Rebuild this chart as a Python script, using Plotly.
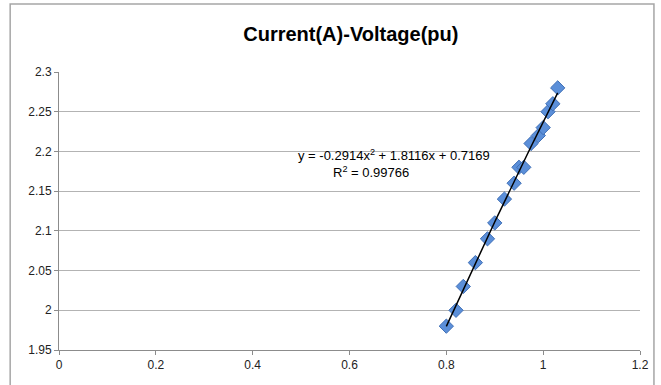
import numpy as np
import plotly.graph_objects as go

# Data
current = [0.80, 0.82, 0.835, 0.86, 0.885, 0.90, 0.92, 0.94, 0.95, 0.96, 0.975, 0.99, 1.00, 1.01, 1.02, 1.03]
voltage = [1.98, 2.00, 2.03, 2.06, 2.09, 2.11, 2.14, 2.16, 2.18, 2.18, 2.21, 2.22, 2.23, 2.25, 2.26, 2.28]

# Trendline coefficients shown on the chart
coef = [-0.2914, 1.8116, 0.7169]
r2_text = "0.99766"

x_ticks = [0, 0.2, 0.4, 0.6, 0.8, 1, 1.2]
x_tick_labels = ["0", "0.2", "0.4", "0.6", "0.8", "1", "1.2"]
y_ticks = [1.95, 2.0, 2.05, 2.1, 2.15, 2.2, 2.25, 2.3]
y_tick_labels = ["1.95", "2", "2.05", "2.1", "2.15", "2.2", "2.25", "2.3"]

W, H = 661, 385
ml, mr, mt, mb = 59, 19, 72, 35
pw, ph = W - ml - mr, H - mt - mb

fx = np.linspace(min(current), max(current), 100)
fy = np.polyval(coef, fx)

fig = go.Figure()
fig.add_trace(go.Scatter(
    x=current, y=voltage, mode="markers",
    marker=dict(symbol="diamond", size=11, color="#5b8fd9",
                line=dict(color="#3f6fb6", width=1)),
    showlegend=False))
fig.add_trace(go.Scatter(
    x=fx, y=fy, mode="lines",
    line=dict(color="black", width=1.5), showlegend=False))

font = "Liberation Sans"
fig.update_layout(
    width=W, height=H,
    margin=dict(l=ml, r=mr, t=mt, b=mb),
    paper_bgcolor="white", plot_bgcolor="white",
    font=dict(family=font, size=12, color="#222"),
    title=dict(text="<b>Current(A)-Voltage(pu)</b>", x=332 / W, xanchor="center",
               xref="paper", y=1 - 34 / H, yanchor="middle",
               font=dict(family=font, size=20, color="black")),
    xaxis=dict(range=[0, 1.2], tickvals=x_ticks, ticktext=x_tick_labels,
               showgrid=False, zeroline=False, showline=True,
               linecolor="#8c8c8c", linewidth=1, ticks="outside",
               ticklen=4, tickcolor="#8c8c8c", tickfont=dict(size=12)),
    yaxis=dict(range=[1.95, 2.3], tickvals=y_ticks, ticktext=y_tick_labels,
               showgrid=True, gridcolor="#b3b3b3", gridwidth=1,
               zeroline=False, showline=True,
               linecolor="#8c8c8c", linewidth=1, ticks="outside",
               ticklen=4, tickcolor="#8c8c8c", tickfont=dict(size=12)),
    shapes=[dict(type="rect", xref="paper", yref="paper",
                 x0=(10 - ml) / pw, x1=(656 - ml) / pw,
                 y0=-(mb + 10) / ph, y1=(H - mb - 4) / ph,
                 line=dict(color="#a6a6a6", width=1.5))],
    annotations=[
        dict(x=0.6917, y=2.195, xref="x", yref="y", showarrow=False,
             text="y = -0.2914x<sup>2</sup> + 1.8116x + 0.7169",
             font=dict(family=font, size=13, color="black"),
             xanchor="center", yanchor="middle"),
        dict(x=0.645, y=2.1735, xref="x", yref="y", showarrow=False,
             text="R<sup>2</sup> = " + r2_text,
             font=dict(family=font, size=13, color="black"),
             xanchor="center", yanchor="middle"),
    ],
)

fig.write_html("out.html",
               config={"displayModeBar": False},
               post_script="document.body.style.margin='0';document.body.style.overflow='hidden';")
